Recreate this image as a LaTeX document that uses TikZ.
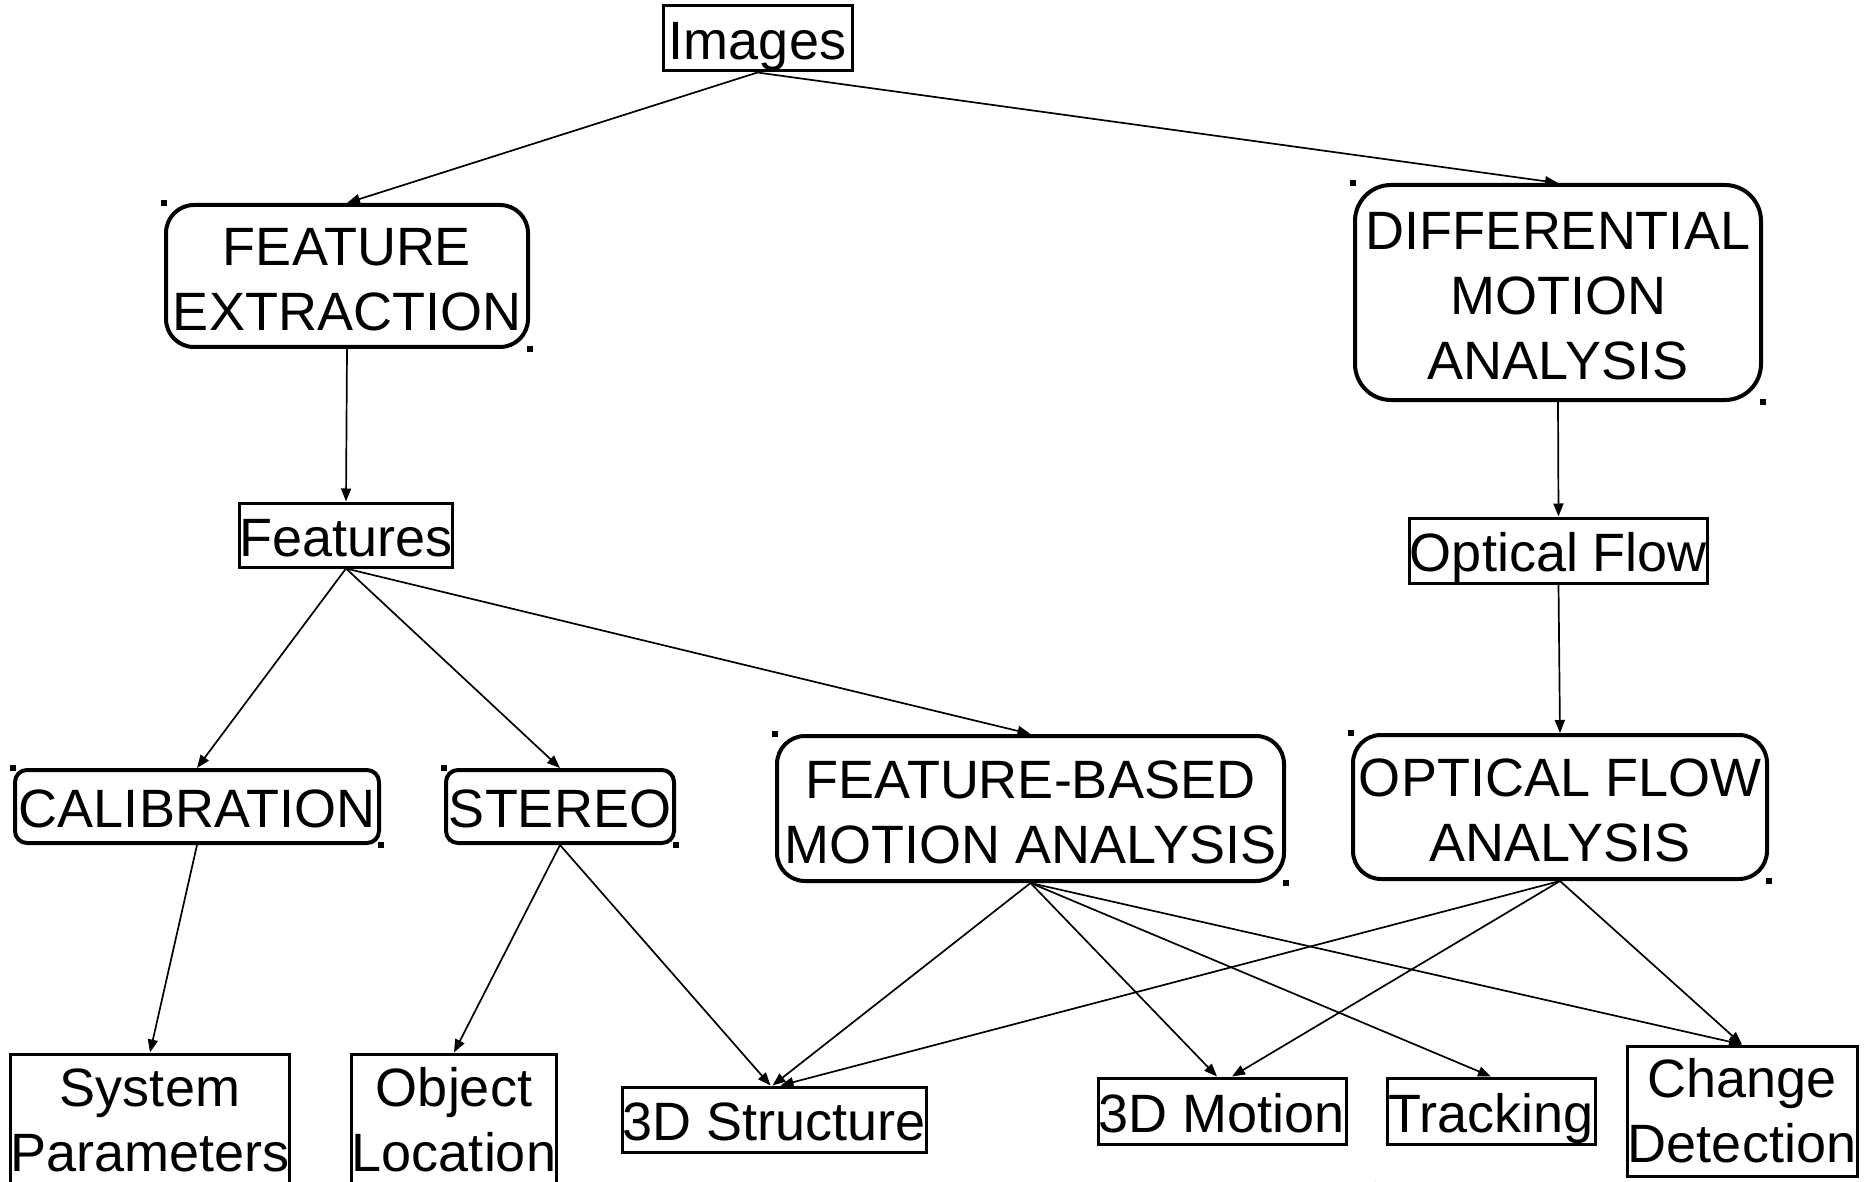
\documentclass[tikz,border=0pt]{standalone}
\usepackage{fontspec}
\setmainfont{Liberation Sans}
\usetikzlibrary{arrows.meta}
\newcommand\firststrut{\rule{0pt}{22.5pt}}
\begin{document}
\begin{tikzpicture}[x=0.5pt,y=-0.5pt,
  lbl/.style={font=\fontsize{27}{32.5}\selectfont, align=center, inner sep=0pt},
  one/.style={text depth=0pt, text height=21pt},
  sq/.style={lbl, draw, line width=1.5pt, rectangle},
  rnd/.style={lbl, draw, line width=2pt, rounded corners=14pt},
  rnds/.style={lbl, draw, line width=2pt, rounded corners=6pt},
  arr/.style={line width=0.85pt, -{Triangle[length=6.5pt,width=5pt]}}
]
\useasboundingbox (0,0) rectangle (1864,1182);
\fill[white] (0,0) rectangle (1864,1182);

% nodes
\node[sq, one, minimum width=94.5pt, minimum height=32.5pt] (img) at (757.5,38.5) {Images};
\node[rnd, minimum width=181pt, minimum height=71pt] (fe) at (347,276) {\firststrut FEATURE\\EXTRACTION};
\node[rnd, rounded corners=18pt, minimum width=203pt, minimum height=107.5pt] (dma) at (1558,292.5) {\firststrut DIFFERENTIAL\\MOTION\\ANALYSIS};
\node[sq, one, minimum width=106pt, minimum height=32pt] (feat) at (346,535) {Features};
\node[sq, one, minimum width=147.5pt, minimum height=32.5pt] (of) at (1558.5,550.5) {Optical Flow};
\node[rnds, one, minimum width=182pt, minimum height=36.5pt] (cal) at (197,806.5) {CALIBRATION};
\node[rnds, one, minimum width=114pt, minimum height=36.5pt] (st) at (560,806.5) {STEREO};
\node[rnd, minimum width=253.5pt, minimum height=72.5pt] (fbma) at (1030.5,808.5) {\firststrut FEATURE-BASED\\MOTION ANALYSIS};
\node[rnd, minimum width=207pt, minimum height=72pt] (ofa) at (1560,807) {\firststrut OPTICAL FLOW\\ANALYSIS};
\node[sq, minimum width=138pt, minimum height=66pt] (sys) at (150,1120) {System\\Parameters};
\node[sq, minimum width=101pt, minimum height=66pt] (obj) at (454,1120) {Object\\Location};
\node[sq, one, minimum width=151.5pt, minimum height=32.5pt] (s3d) at (774.5,1119.5) {3D Structure};
\node[sq, one, minimum width=124pt, minimum height=33pt] (m3d) at (1222,1111) {3D Motion};
\node[sq, one, minimum width=104pt, minimum height=33pt] (trk) at (1491,1111) {Tracking};
\node[sq, minimum width=115pt, minimum height=65pt] (chg) at (1742,1111) {Change\\Detection};
\node[font=\fontsize{8}{9}\selectfont, inner sep=0pt] (pg) at (1375,1188) {8};

% corner marks on rounded boxes
\foreach \n in {fe,dma,cal,st,fbma,ofa}{
  \fill (\n.north west) ++(-1.5pt,-1.5pt) rectangle ++(3pt,3pt);
  \fill (\n.south east) ++(-1.5pt,-1.5pt) rectangle ++(3pt,3pt);
}

% connectors
\draw[arr] (img.south) -- (fe.north);
\draw[arr] (img.south) -- (dma.north);
\draw[arr] (fe.south) -- (feat.north);
\draw[arr] (dma.south) -- (of.north);
\draw[arr] (feat.south) -- (cal.north);
\draw[arr] (feat.south) -- (st.north);
\draw[arr] (feat.south) -- (fbma.north);
\draw[arr] (of.south) -- (ofa.north);
\draw[arr] (cal.south) -- (sys.north);
\draw[arr] (st.south) -- (obj.north);
\draw[arr] (st.south) -- ([xshift=-2pt]s3d.north);
\draw[arr] (fbma.south) -- ([xshift=-1pt]s3d.north);
\draw[arr] (ofa.south) -- ([xshift=3pt]s3d.north);
\draw[arr] (fbma.south) -- ([xshift=-2.5pt]m3d.north);
\draw[arr] (ofa.south) -- ([xshift=5pt]m3d.north);
\draw[arr] (fbma.south) -- (trk.north);
\draw[arr] (fbma.south) -- (chg.north);
\draw[arr] (ofa.south) -- (chg.north);
\end{tikzpicture}
\end{document}
